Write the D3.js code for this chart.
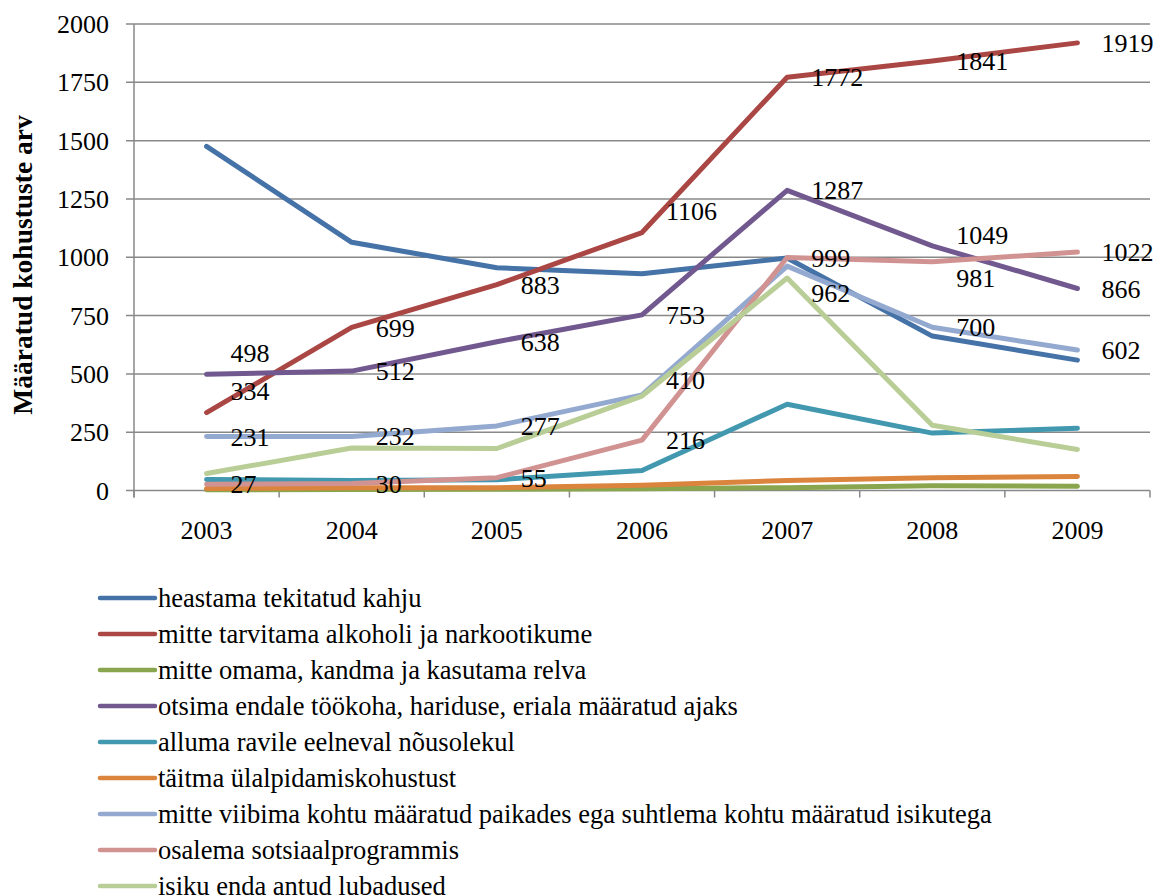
<!DOCTYPE html>
<html>
<head>
<meta charset="utf-8">
<script src="https://cdn.jsdelivr.net/npm/d3@7"></script>
<style>
  body { margin: 0; background: #fff; }
</style>
</head>
<body>
<svg width="1156" height="895" font-family="'Liberation Serif', 'Times New Roman', serif"></svg>
<script>
var years = ["2003", "2004", "2005", "2006", "2007", "2008", "2009"];
var yTicks = [0, 250, 500, 750, 1000, 1250, 1500, 1750, 2000];

var names = [
  "heastama tekitatud kahju",
  "mitte tarvitama alkoholi ja narkootikume",
  "mitte omama, kandma ja kasutama relva",
  "otsima endale töökoha, hariduse, eriala määratud ajaks",
  "alluma ravile eelneval nõusolekul",
  "täitma ülalpidamiskohustust",
  "mitte viibima kohtu määratud paikades ega suhtlema kohtu määratud isikutega",
  "osalema sotsiaalprogrammis",
  "isiku enda antud lubadused"
];

var heastama = [1475, 1064, 955, 929, 997, 662, 559];
var alkohol = [334, 699, 883, 1106, 1772, 1841, 1919];
var relv = [3, 4, 5, 8, 12, 20, 18];
var tookoht = [498, 512, 638, 753, 1287, 1049, 866];
var ravi = [47, 43, 46, 86, 370, 246, 267];
var ylalpidamine = [9, 12, 12, 22, 43, 55, 60];
var viibima = [231, 232, 277, 410, 962, 700, 602];
var sotsiaal = [27, 30, 55, 216, 999, 981, 1022];
var lubadused = [73, 182, 180, 405, 911, 280, 176];

var colors = ["#4572A7", "#AA4643", "#89A54E", "#71588F", "#4198AF", "#DB843D", "#93A9CF", "#D19392", "#B9CD96"];
var series = [heastama, alkohol, relv, tookoht, ravi, ylalpidamine, viibima, sotsiaal, lubadused];

// series that carry value labels, and small manual nudges (px) like in the original
var labelled = [1, 3, 6, 7];
var nudge = { "1-0": -22, "3-0": -21, "1-3": -22, "6-3": -15, "6-4": 27, "7-5": 16, "3-5": -11 };

var svg = d3.select("svg"),
  plotLeft = 134, plotRight = 1150, plotTop = 24, plotBottom = 490.5;

var x = d3.scaleBand().domain(years).range([plotLeft, plotRight]);
var y = d3.scaleLinear().domain([0, 2000]).range([plotBottom, plotTop]);

// gridlines
svg.append("g")
  .selectAll("line")
  .data(yTicks)
  .enter().append("line")
  .attr("x1", plotLeft - 8)
  .attr("x2", plotRight)
  .attr("y1", function(d) { return y(d); })
  .attr("y2", function(d) { return y(d); })
  .attr("stroke", "#888")
  .attr("stroke-width", 1.5);

// y axis line
svg.append("line")
  .attr("x1", plotLeft).attr("x2", plotLeft)
  .attr("y1", plotTop).attr("y2", plotBottom + 7)
  .attr("stroke", "#888").attr("stroke-width", 1.5);

// x ticks at band edges
svg.append("g")
  .selectAll("line")
  .data(years.concat(["end"]))
  .enter().append("line")
  .attr("x1", function(d, i) { return plotLeft + i * x.bandwidth(); })
  .attr("x2", function(d, i) { return plotLeft + i * x.bandwidth(); })
  .attr("y1", plotBottom)
  .attr("y2", plotBottom + 7)
  .attr("stroke", "#888")
  .attr("stroke-width", 1.5);

svg.append("g")
  .selectAll("text")
  .data(yTicks)
  .enter().append("text")
  .attr("x", plotLeft - 25)
  .attr("y", function(d) { return y(d); })
  .attr("dy", "0.35em")
  .attr("text-anchor", "end")
  .attr("font-size", 26)
  .text(function(d) { return d; });

svg.append("g")
  .selectAll("text")
  .data(years)
  .enter().append("text")
  .attr("x", function(d) { return x(d) + x.bandwidth() / 2; })
  .attr("y", 530)
  .attr("dy", "0.35em")
  .attr("text-anchor", "middle")
  .attr("font-size", 26)
  .text(function(d) { return d; });

svg.append("text")
  .attr("transform", "translate(32,265)rotate(-90)")
  .attr("text-anchor", "middle")
  .attr("font-size", 27.5)
  .attr("font-weight", "bold")
  .text("Määratud kohustuste arv");

var line = d3.line()
  .x(function(d, i) { return x(years[i]) + x.bandwidth() / 2; })
  .y(function(d) { return y(d); });

svg.append("g")
  .selectAll("path")
  .data(series)
  .enter().append("path")
  .attr("d", line)
  .attr("fill", "none")
  .attr("stroke", function(d, i) { return colors[i]; })
  .attr("stroke-width", 5)
  .attr("stroke-linecap", "round")
  .attr("stroke-linejoin", "round");

// data labels
labelled.forEach(function(s) {
  svg.append("g")
    .selectAll("text")
    .data(series[s])
    .enter().append("text")
    .attr("x", function(d, i) { return x(years[i]) + x.bandwidth() / 2 + 24; })
    .attr("y", function(d, i) { return y(d) + (nudge[s + "-" + i] || 0); })
    .attr("dy", "0.35em")
    .attr("font-size", 26)
    .text(function(d) { return d; });
});

// legend
var legend = svg.append("g")
  .selectAll("g")
  .data(names)
  .enter().append("g")
  .attr("transform", function(d, i) { return "translate(100," + (598 + i * 36) + ")"; });

legend.append("line")
  .attr("x2", 55)
  .attr("stroke", function(d, i) { return colors[i]; })
  .attr("stroke-width", 4.5)
  .attr("stroke-linecap", "round");

legend.append("text")
  .attr("x", 58)
  .attr("dy", "0.35em")
  .attr("font-size", 26.5)
  .text(function(d) { return d; });
</script>
</body>
</html>
